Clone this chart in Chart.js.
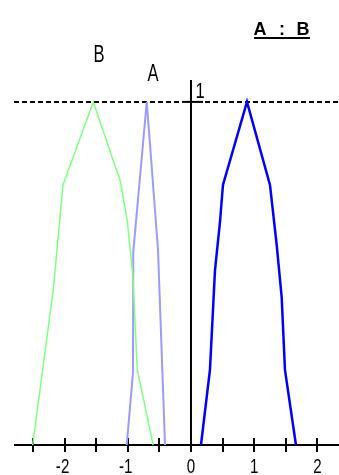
<!DOCTYPE html>
<html>
<head>
<meta charset="utf-8">
<script src="https://cdn.jsdelivr.net/npm/chart.js@4/dist/chart.umd.min.js"></script>
<style>
  html, body { margin: 0; padding: 0; background: #fff; }
  canvas { display: block; }
</style>
</head>
<body>
<canvas id="fuzzyChart" width="339" height="475"></canvas>
<script>
// membership function of B
const bX = [-2.505, -2.18, -2.025, -1.546, -1.12, -1.01, -0.92, -0.85, -0.6];
const bY = [0, 0.452, 0.758, 1, 0.77, 0.656, 0.496, 0.22, 0];
// membership function of A
const aX = [-1.017, -0.918, -0.913, -0.70, -0.522, -0.411];
const aY = [0, 0.21, 0.563, 1, 0.569, 0];
// result A : B
const rX = [0.158, 0.30, 0.38, 0.459, 0.506, 0.886, 1.25, 1.356, 1.435, 1.487, 1.661];
const rY = [0, 0.219, 0.51, 0.65, 0.758, 1, 0.758, 0.583, 0.431, 0.219, 0];

const xTicks = [-2.5, -2, -1.5, -1, -0.5, 0, 0.5, 1, 1.5, 2];
const xLabels = [-2, -1, 0, 1, 2];
const topLevel = 1;

function toPoints(xs, ys) {
    return xs.map((x, i) => ({ x: x, y: ys[i] }));
}

// text in a tall, narrow face
function drawText(ctx, str, x, y, size, sx, weight) {
    ctx.save();
    ctx.translate(x, y);
    ctx.scale(sx, 1);
    ctx.font = (weight || 'normal') + ' ' + size + 'px "Liberation Sans", Arial, sans-serif';
    ctx.textAlign = 'center';
    ctx.textBaseline = 'alphabetic';
    ctx.fillStyle = '#000';
    ctx.fillText(str, 0, 0);
    ctx.restore();
}

const axesPlugin = {
    id: 'axesPlugin',
    beforeDatasetsDraw(chart) {
        const ctx = chart.ctx;
        const xs = chart.scales.x;
        const ys = chart.scales.y;
        const x0 = xs.getPixelForValue(0);
        const y0 = ys.getPixelForValue(0);
        const y1 = ys.getPixelForValue(topLevel);
        const left = xs.getPixelForValue(-2.8);
        const right = chart.width;

        ctx.save();
        ctx.strokeStyle = '#000';

        // dashed level line at 1
        ctx.lineWidth = 2;
        ctx.setLineDash([5, 3]);
        ctx.beginPath();
        ctx.moveTo(left, y1);
        ctx.lineTo(x0 - 11, y1);
        ctx.moveTo(x0 + 14, y1);
        ctx.lineTo(right, y1);
        ctx.stroke();
        ctx.setLineDash([]);

        // tick at 1 on vertical axis
        ctx.beginPath();
        ctx.moveTo(x0 - 9, y1);
        ctx.lineTo(x0 + 12, y1);
        ctx.stroke();

        // vertical axis
        ctx.beginPath();
        ctx.moveTo(x0, y1 - 22);
        ctx.lineTo(x0, y0);
        ctx.stroke();

        // horizontal axis
        ctx.beginPath();
        ctx.moveTo(left, y0);
        ctx.lineTo(right, y0);
        ctx.stroke();

        // tick marks
        xTicks.forEach(t => {
            const px = Math.round(xs.getPixelForValue(t));
            ctx.beginPath();
            ctx.moveTo(px, y0 - 7);
            ctx.lineTo(px, y0 + 7);
            ctx.stroke();
        });
        ctx.restore();
    },
    afterDraw(chart) {
        const ctx = chart.ctx;
        const xs = chart.scales.x;
        const ys = chart.scales.y;
        const y0 = ys.getPixelForValue(0);
        const x0 = xs.getPixelForValue(0);
        const y1 = ys.getPixelForValue(topLevel);

        xLabels.forEach(v => {
            drawText(ctx, String(v), xs.getPixelForValue(v) - (v < 0 ? 2 : 0), y0 + 28, 21, 0.72);
        });

        drawText(ctx, '1', x0 + 9, y1 - 4, 22, 0.75);

        // curve names
        drawText(ctx, 'B', xs.getPixelForValue(-1.456), ys.getPixelForValue(1.117), 23, 0.72);
        drawText(ctx, 'A', xs.getPixelForValue(-0.601), ys.getPixelForValue(1.06), 23, 0.72);

        // title, underlined
        drawText(ctx, 'A', 260, 35, 18, 1, 'bold');
        drawText(ctx, ':', 282, 35, 18, 1, 'bold');
        drawText(ctx, 'B', 303, 35, 18, 1, 'bold');
        ctx.save();
        ctx.strokeStyle = '#000';
        ctx.lineWidth = 2;
        ctx.beginPath();
        ctx.moveTo(254, 38);
        ctx.lineTo(310, 38);
        ctx.stroke();
        ctx.restore();
    }
};

const fuzzyChart = new Chart(document.getElementById('fuzzyChart').getContext('2d'), {
    type: 'scatter',
    data: {
        datasets: [{
            label: 'B',
            data: toPoints(bX, bY),
            showLine: true,
            borderColor: '#80ff80',
            borderWidth: 1.5,
            pointRadius: 0,
            tension: 0
        }, {
            label: 'A',
            data: toPoints(aX, aY),
            showLine: true,
            borderColor: '#9a9aff',
            borderWidth: 2,
            pointRadius: 0,
            tension: 0
        }, {
            label: 'A : B',
            data: toPoints(rX, rY),
            showLine: true,
            borderColor: '#0000ff',
            borderWidth: 2.5,
            pointRadius: 0,
            tension: 0
        }]
    },
    options: {
        responsive: false,
        animation: false,
        devicePixelRatio: 1,
        layout: { padding: 0 },
        plugins: {
            legend: { display: false },
            tooltip: { enabled: false }
        },
        scales: {
            x: { type: 'linear', min: -3.022, max: 2.342, display: false },
            y: { type: 'linear', min: -0.0875, max: 1.297, display: false }
        }
    },
    plugins: [axesPlugin]
});
</script>
</body>
</html>
